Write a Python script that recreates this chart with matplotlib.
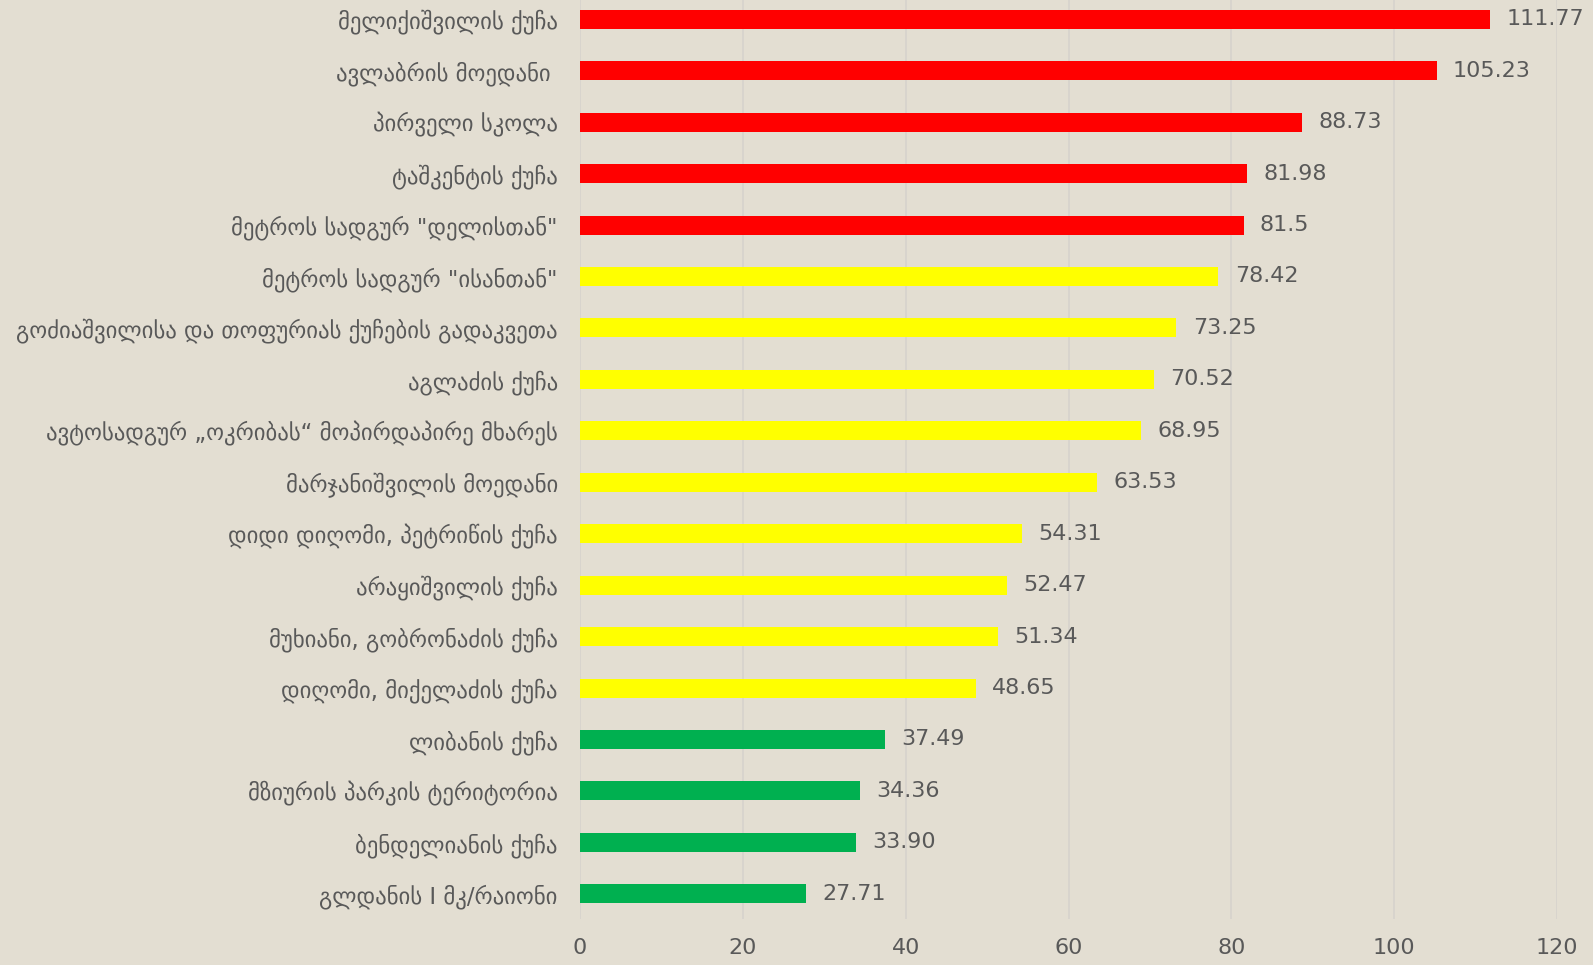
import matplotlib
matplotlib.use("Agg")
import matplotlib.pyplot as plt

# data, top to bottom
streets = [
    "მელიქიშვილის ქუჩა",
    "ავლაბრის მოედანი ",
    "პირველი სკოლა",
    "ტაშკენტის ქუჩა",
    "მეტროს სადგურ \"დელისთან\"",
    "მეტროს სადგურ \"ისანთან\"",
    "გოძიაშვილისა და თოფურიას ქუჩების გადაკვეთა",
    "აგლაძის ქუჩა",
    "ავტოსადგურ „ოკრიბას“ მოპირდაპირე მხარეს",
    "მარჯანიშვილის მოედანი",
    "დიდი დიღომი, პეტრიწის ქუჩა",
    "არაყიშვილის ქუჩა",
    "მუხიანი, გობრონაძის ქუჩა",
    "დიღომი, მიქელაძის ქუჩა",
    "ლიბანის ქუჩა",
    "მზიურის პარკის ტერიტორია",
    "ბენდელიანის ქუჩა",
    "გლდანის I მკ/რაიონი",
]
values = [111.77, 105.23, 88.73, 81.98, 81.5, 78.42, 73.25, 70.52, 68.95,
          63.53, 54.31, 52.47, 51.34, 48.65, 37.49, 34.36, 33.90, 27.71]
value_labels = ["111.77", "105.23", "88.73", "81.98", "81.5", "78.42", "73.25",
                "70.52", "68.95", "63.53", "54.31", "52.47", "51.34", "48.65",
                "37.49", "34.36", "33.90", "27.71"]
levels = ["high"] * 5 + ["mid"] * 9 + ["low"] * 4

level_colors = {"high": "#FF0000", "mid": "#FFFF00", "low": "#00B050"}
bg = "#E3DED2"
txt = "#595959"

plt.rcParams['font.family'] = ['DejaVu Sans']

fig = plt.figure(figsize=(15.93, 9.65), dpi=100, facecolor=bg)
ax = fig.add_axes([580 / 1593, 1 - 919 / 965, (1557 - 580) / 1593, 919 / 965])
ax.set_facecolor(bg)

ypos = list(range(len(streets)))
ax.barh(ypos, values, height=0.37,
        color=[level_colors[l] for l in levels], zorder=3)

for y, v, s in zip(ypos, values, value_labels):
    ax.text(v + 2.0, y, s, va="center", ha="left", fontsize=16, color=txt)

ax.set_xlim(0, 120)
ax.set_ylim(len(streets) - 1 + 0.49, -0.375)
ax.set_xticks(range(0, 121, 20))
ax.set_yticks(ypos)
ax.set_yticklabels(streets, fontsize=16.4, color=txt)
ax.tick_params(axis="y", length=0, pad=16)
ax.tick_params(axis="x", length=0, pad=14, labelsize=16, labelcolor=txt)
ax.grid(axis="x", color="#D6D3CD", linewidth=1.2, zorder=0)
for sp in ax.spines.values():
    sp.set_visible(False)

fig.savefig("out.png", dpi=100, facecolor=bg)
